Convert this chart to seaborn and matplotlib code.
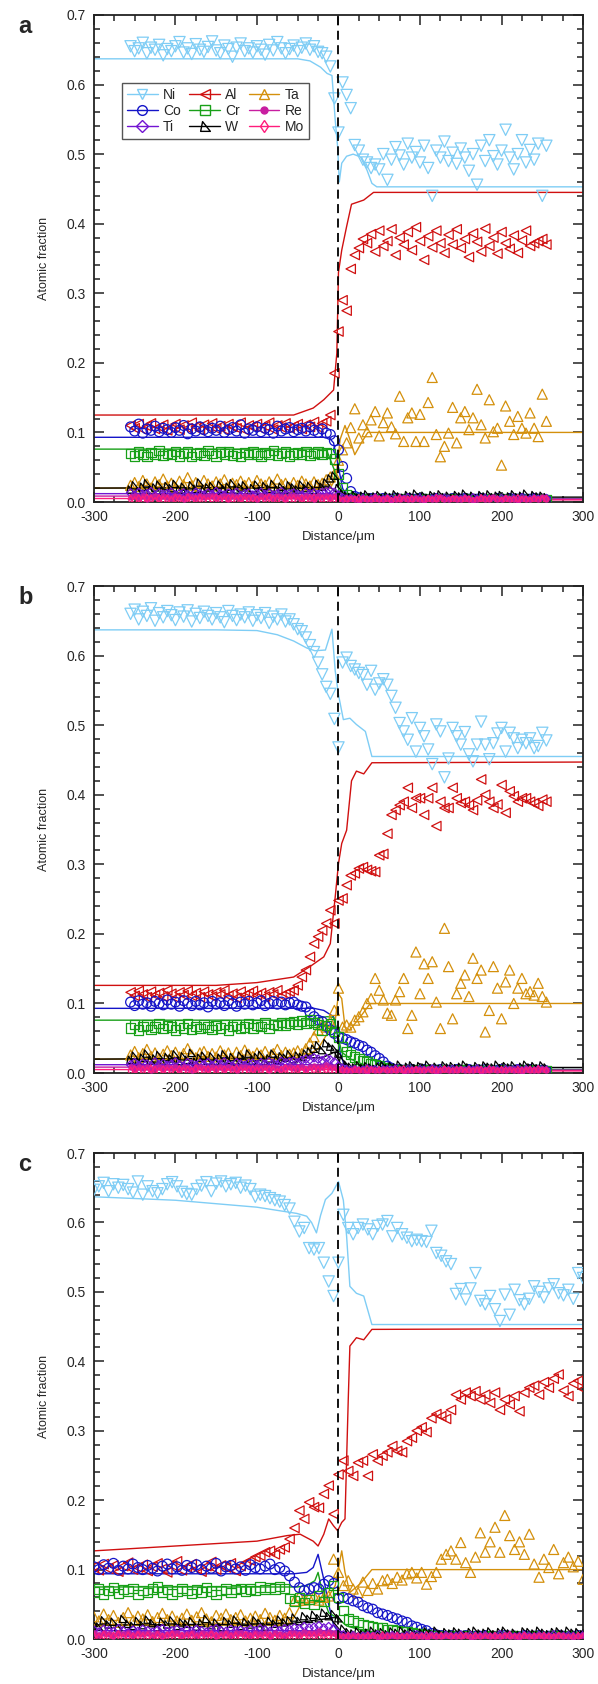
import numpy as np
import matplotlib
matplotlib.use("Agg")
import matplotlib.pyplot as plt
from matplotlib.lines import Line2D
from matplotlib.path import Path
from matplotlib.ticker import MultipleLocator, FormatStrFormatter
import seaborn as sns

# measured profiles, atomic fraction x1000
# panels a and b sampled every 5 um from -255 to 255, panel c every 6 um from -300 to 300
DIST_AB = np.arange(-255, 256, 5)
DIST_C = np.arange(-300, 301, 6)

ELEMENTS = ["Ni", "Co", "Ti", "Al", "Cr", "W", "Ta", "Re", "Mo"]
DRAW_ORDER = ["Ni", "Al", "Ta", "Co", "Cr", "W", "Ti", "Re", "Mo"]

# ---------------- panel a ----------------
NI_A = [655, 648, 652, 660, 645, 653, 650, 657, 642, 651,
        648, 655, 661, 646, 652, 644, 658, 650, 647, 654,
        662, 649, 645, 656, 651, 640, 653, 659, 648, 652,
        646, 655, 650, 643, 657, 649, 661, 652, 645, 651,
        656, 648, 653, 659, 650, 655, 647, 645, 640, 626,
        580,
        531, 603, 585, 566, 513, 505, 492, 488, 480, 485,
        478, 500, 463, 492, 510, 498, 485, 515, 495, 503,
        488, 512, 480, 440, 505, 495, 518, 490, 502, 486,
        508, 495, 476, 500, 456, 512, 490, 520, 497, 485,
        505, 535, 495, 478, 500, 520, 488, 506, 492, 515,
        440, 512]
AL_A = [110, 106, 112, 104, 109, 113, 105, 108, 111, 103,
        107, 112, 104, 110, 106, 114, 108, 103, 111, 107,
        113, 105, 109, 104, 112, 108, 106, 114, 103, 110,
        108, 112, 105, 109, 114, 104, 110, 107, 113, 106,
        109, 112, 105, 111, 108, 115, 107, 113, 116, 125,
        185,
        245, 290, 275, 335, 355, 365, 378, 372, 385, 360,
        390, 368, 375, 392, 355, 380, 370, 388, 362, 395,
        375, 348, 382, 366, 390, 372, 358, 384, 370, 392,
        365, 378, 352, 386, 374, 360, 393, 368, 380, 357,
        388, 372, 364, 383, 358, 376, 390, 368, 372, 375,
        378, 370]
TA_A = [24, 28, 22, 31, 26, 20, 29, 25, 33, 23,
        27, 21, 30, 25, 35, 24, 28, 22, 31, 26,
        23, 29, 26, 32, 21, 27, 25, 30, 24, 28,
        22, 31, 26, 24, 29, 23, 33, 25, 27, 21,
        28, 24, 30, 26, 23, 29, 25, 27, 32, 36,
        40,
        60, 75, 85, 107, 134, 92, 111, 101, 118, 130,
        95, 114, 128, 108, 98, 152, 87, 121, 128, 87,
        126, 87, 143, 179, 97, 65, 80, 99, 136, 85,
        121, 130, 104, 121, 162, 111, 92, 147, 101, 106,
        53, 138, 116, 97, 123, 106, 99, 128, 106, 94,
        155, 116]
CO_A = [108, 102, 112, 99, 105, 103, 109, 101, 106, 104,
        100, 107, 103, 110, 98, 105, 102, 108, 104, 101,
        106, 103, 109, 100, 104, 107, 102, 111, 99, 105,
        103, 108, 101, 106, 104, 99, 109, 102, 105, 107,
        101, 104, 106, 102, 108, 103, 100, 105, 99, 97,
        88,
        75, 51, 34, 15, 8, 6, 5, 4, 5, 4,
        4, 5, 3, 4, 5, 4, 3, 5, 4, 4,
        5, 4, 3, 4, 5, 4, 4, 3, 5, 4,
        4, 5, 4, 3, 4, 5, 4, 4, 3, 5,
        4, 3, 5, 4, 4, 5, 3, 4, 5, 4,
        4, 3]
CR_A = [70, 66, 72, 68, 65, 71, 69, 74, 67, 70,
        68, 73, 66, 70, 72, 65, 69, 71, 67, 74,
        70, 66, 72, 69, 73, 67, 70, 65, 71, 68,
        72, 69, 66, 71, 68, 74, 67, 70, 72, 66,
        69, 71, 68, 73, 67, 70, 72, 68, 71, 70,
        62,
        40, 20, 10, 6, 5, 4, 5, 4, 4, 5,
        4, 4, 5, 3, 4, 4, 5, 4, 3, 4,
        4, 5, 4, 4, 3, 5, 4, 4, 5, 4,
        3, 4, 5, 4, 4, 3, 4, 5, 4, 4,
        5, 4, 3, 4, 5, 4, 4, 3, 4, 5,
        4, 4]
W_A = [18, 24, 15, 22, 27, 17, 21, 25, 16, 23,
       20, 26, 18, 22, 15, 24, 19, 28, 17, 21,
       23, 16, 25, 19, 22, 27, 18, 21, 24, 17,
       20, 25, 16, 23, 19, 26, 18, 22, 17, 24,
       21, 18, 25, 20, 23, 17, 26, 22, 28, 34,
       38,
       20, 12, 9, 7, 10, 6, 9, 11, 7, 8,
       10, 6, 9, 7, 11, 8, 6, 10, 8, 12,
       7, 9, 6, 10, 8, 11, 7, 9, 6, 10,
       8, 12, 7, 9, 6, 10, 8, 11, 7, 9,
       10, 6, 8, 11, 7, 9, 12, 6, 10, 8,
       9, 7]
TI_A = [13, 10, 14, 11, 12, 15, 9, 13, 11, 12,
        14, 10, 12, 13, 11, 9, 14, 12, 10, 13,
        11, 15, 12, 10, 13, 11, 14, 9, 12, 13,
        10, 12, 14, 11, 13, 10, 12, 15, 11, 12,
        13, 11, 10, 14, 12, 13, 11, 14, 15, 16,
        14,
        10, 6, 4, 5, 3, 4, 5, 3, 4, 6,
        3, 4, 5, 4, 3, 5, 4, 6, 3, 4,
        5, 3, 4, 4, 6, 3, 5, 4, 3, 4,
        4, 5, 3, 6, 4, 3, 5, 4, 4, 3,
        5, 4, 3, 5, 4, 6, 3, 4, 5, 4,
        3, 5]
RE_A = [7, 9, 6, 8, 5, 7, 9, 6, 8, 7,
        6, 8, 7, 5, 9, 7, 6, 8, 7, 9,
        8, 6, 7, 9, 5, 8, 7, 6, 9, 7,
        7, 5, 8, 7, 9, 6, 8, 7, 5, 8,
        9, 7, 6, 8, 7, 5, 9, 7, 8, 6,
        8,
        6, 5, 4, 6, 5, 3, 6, 4, 5, 7,
        4, 5, 6, 3, 5, 4, 6, 5, 4, 6,
        5, 3, 6, 5, 4, 7, 5, 4, 6, 5,
        4, 6, 5, 3, 5, 6, 4, 5, 7, 4,
        5, 6, 4, 5, 3, 6, 5, 4, 6, 5,
        7, 5]
MO_A = [4, 2, 5, 3, 6, 4, 1, 5, 3, 4,
        2, 5, 4, 3, 6, 2, 4, 5, 3, 1,
        4, 6, 3, 2, 5, 4, 3, 5, 2, 4,
        5, 3, 1, 4, 6, 3, 4, 2, 5, 3,
        4, 2, 5, 3, 4, 6, 2, 4, 3, 5,
        4,
        3, 1, 4, 2, 3, 5, 2, 3, 1, 4,
        3, 2, 4, 1, 3, 5, 2, 3, 4, 2,
        1, 3, 4, 2, 5, 3, 2, 1, 4, 3,
        2, 4, 3, 1, 2, 5, 3, 4, 2, 3,
        1, 4, 2, 3, 5, 2, 3, 1, 4, 2,
        3, 4]

# ---------------- panel b ----------------
NI_B = [660, 666, 652, 663, 657, 668, 650, 661, 655, 664,
        658, 651, 662, 656, 665, 649, 660, 654, 663, 657,
        652, 661, 655, 648, 664, 657, 651, 659, 655, 662,
        650, 658, 654, 661, 647, 656, 652, 659, 649, 652,
        645, 638, 635, 626, 615, 605, 590, 573, 555, 545,
        509,
        468, 590, 597, 585, 580, 575, 572, 558, 578, 551,
        560, 566, 558, 542, 525, 503, 491, 479, 510, 462,
        496, 484, 465, 444, 501, 491, 425, 452, 496, 484,
        472, 490, 458, 448, 472, 505, 472, 451, 474, 488,
        496, 462, 489, 481, 467, 479, 474, 481, 467, 470,
        489, 478]
AL_B = [116, 111, 118, 113, 109, 117, 112, 115, 110, 119,
        114, 108, 116, 112, 118, 111, 115, 109, 117, 113,
        110, 116, 113, 119, 111, 114, 108, 117, 112, 115,
        118, 112, 115, 110, 116, 113, 119, 111, 114, 117,
        119, 126, 138, 148, 167, 186, 196, 205, 215, 234,
        215,
        248, 251, 270, 284, 287, 294, 296, 292, 290, 289,
        313, 315, 344, 371, 378, 385, 390, 410, 381, 395,
        395, 371, 395, 410, 355, 390, 381, 381, 410, 395,
        388, 390, 385, 378, 392, 422, 400, 390, 381, 386,
        414, 374, 405, 398, 390, 395, 395, 390, 388, 384,
        393, 390]
TA_B = [26, 31, 22, 28, 34, 24, 29, 21, 27, 32,
        25, 30, 23, 28, 35, 26, 22, 29, 31, 24,
        28, 23, 32, 26, 29, 21, 30, 25, 33, 27,
        24, 29, 26, 31, 23, 28, 34, 25, 30, 27,
        29, 32, 28, 35, 43, 52, 62, 69, 66, 74,
        90,
        122, 66, 69, 66, 76, 81, 88, 100, 107, 136,
        119, 105, 86, 83, 105, 117, 136, 64, 83, 174,
        114, 157, 136, 160, 102, 64, 208, 153, 78, 114,
        129, 141, 110, 165, 136, 148, 59, 90, 153, 122,
        78, 131, 148, 100, 122, 136, 114, 117, 112, 129,
        110, 102]
CO_B = [102, 97, 104, 99, 101, 96, 103, 100, 98, 105,
        99, 102, 96, 104, 100, 97, 103, 98, 101, 95,
        103, 99, 101, 97, 104, 100, 96, 102, 99, 103,
        98, 101, 104, 97, 100, 103, 99, 102, 98, 101,
        102, 98, 96, 95, 88, 81, 76, 74, 67, 62,
        57,
        52, 50, 48, 45, 43, 40, 38, 33, 30, 25,
        21, 16, 10, 7, 5, 5, 4, 4, 5, 3,
        4, 5, 4, 3, 4, 5, 4, 4, 3, 5,
        4, 4, 5, 3, 4, 4, 5, 4, 3, 4,
        5, 4, 4, 3, 5, 4, 4, 5, 3, 4,
        4, 3]
CR_B = [65, 70, 62, 67, 69, 63, 66, 71, 64, 68,
        66, 62, 69, 65, 71, 63, 67, 64, 70, 66,
        63, 68, 65, 70, 62, 67, 69, 64, 66, 71,
        65, 69, 67, 72, 64, 70, 68, 73, 69, 72,
        74, 70, 75, 72, 76, 73, 70, 62, 68, 71,
        60,
        52, 38, 31, 27, 23, 20, 18, 16, 14, 12,
        10, 8, 6, 5, 5, 4, 5, 4, 4, 5,
        4, 4, 5, 3, 4, 5, 4, 4, 3, 4,
        5, 4, 4, 3, 5, 4, 4, 5, 4, 3,
        4, 5, 4, 4, 3, 5, 4, 4, 5, 4,
        3, 4]
W_B = [19, 25, 16, 22, 28, 18, 21, 26, 15, 23,
       21, 27, 17, 24, 19, 29, 16, 22, 25, 18,
       24, 17, 22, 27, 19, 23, 16, 25, 20, 28,
       18, 23, 26, 17, 21, 28, 19, 24, 22, 27,
       20, 25, 23, 28, 31, 35, 40, 33, 43, 38,
       35,
       28, 18, 12, 9, 8, 11, 7, 10, 8, 6,
       9, 11, 7, 10, 8, 12, 6, 9, 11, 7,
       10, 8, 12, 7, 9, 6, 11, 8, 10, 7,
       9, 12, 8, 6, 10, 7, 11, 9, 8, 12,
       7, 10, 8, 11, 6, 9, 12, 8, 10, 7,
       11, 8]
TI_B = [12, 15, 11, 14, 13, 10, 16, 12, 14, 11,
        13, 16, 12, 10, 15, 13, 11, 14, 12, 15,
        11, 14, 13, 16, 12, 10, 15, 13, 11, 14,
        14, 12, 15, 13, 16, 14, 12, 17, 15, 16,
        17, 15, 18, 20, 19, 22, 20, 18, 21, 19,
        16,
        10, 7, 5, 4, 5, 3, 4, 6, 4, 5,
        3, 4, 5, 4, 6, 3, 4, 5, 4, 3,
        5, 4, 3, 6, 4, 5, 3, 4, 5, 4,
        4, 3, 5, 4, 6, 4, 3, 5, 4, 4,
        3, 5, 4, 4, 6, 3, 5, 4, 3, 5,
        4, 4]
RE_B = [8, 6, 9, 7, 8, 5, 7, 9, 6, 8,
        7, 9, 6, 8, 7, 5, 8, 9, 7, 6,
        8, 7, 9, 6, 8, 7, 5, 9, 8, 7,
        6, 8, 7, 9, 5, 8, 7, 6, 9, 8,
        7, 9, 8, 6, 9, 10, 8, 9, 11, 9,
        8,
        6, 5, 4, 5, 6, 4, 5, 3, 6, 5,
        4, 6, 5, 4, 5, 6, 3, 5, 4, 6,
        5, 4, 6, 5, 3, 5, 6, 4, 5, 4,
        6, 5, 4, 5, 6, 3, 5, 4, 6, 5,
        4, 5, 6, 4, 5, 3, 6, 5, 4, 5,
        6, 4]
MO_B = [3, 5, 2, 4, 3, 6, 4, 2, 5, 3,
        4, 1, 5, 3, 4, 2, 6, 3, 4, 5,
        2, 4, 3, 5, 1, 4, 6, 3, 2, 4,
        5, 3, 4, 2, 5, 3, 1, 4, 6, 3,
        4, 5, 2, 4, 3, 5, 4, 3, 5, 4,
        3,
        2, 4, 3, 1, 4, 3, 2, 5, 3, 2,
        4, 1, 3, 2, 4, 3, 5, 2, 3, 4,
        2, 3, 1, 4, 3, 2, 5, 3, 2, 4,
        3, 1, 4, 2, 3, 4, 2, 5, 3, 2,
        4, 3, 2, 1, 4, 3, 2, 4, 3, 5,
        2, 3]

# ---------------- panel c ----------------
NI_C = [647, 652, 657, 645, 655, 650, 654, 648, 643, 659,
        640, 652, 645, 642, 648, 655, 658, 652, 644, 641,
        640, 648, 653, 658, 645, 656, 659, 652, 655, 657,
        650, 653, 648, 637, 640, 638, 635, 632, 630, 625,
        620, 601, 587, 592, 563, 561, 563, 542, 515, 494,
        542, 611, 592, 583, 592, 597, 590, 583, 595, 597,
        602, 580, 592, 583, 578, 573, 575, 573, 572, 588,
        556, 552, 544, 540, 497, 504, 489, 505, 527, 487,
        482, 494, 475, 458, 496, 467, 503, 488, 482, 490,
        508, 500, 492, 505, 511, 498, 495, 503, 490, 527,
        520]
AL_C = [104, 99, 108, 101, 106, 97, 105, 110, 100, 103,
        107, 98, 104, 109, 101, 96, 106, 112, 99, 104,
        108, 101, 97, 105, 111, 100, 106, 103, 109, 98,
        105, 110, 113, 118, 120, 125, 127, 122, 129, 132,
        144, 160, 185, 173, 197, 190, 189, 209, 221, 180,
        237, 257, 242, 235, 254, 257, 235, 266, 257, 264,
        269, 278, 271, 269, 285, 290, 300, 305, 298, 318,
        324, 321, 317, 330, 352, 345, 355, 350, 357, 345,
        352, 340, 355, 330, 345, 338, 350, 328, 355, 362,
        365, 352, 370, 362, 375, 381, 358, 350, 368, 372,
        360]
TA_C = [32, 26, 36, 28, 34, 24, 31, 38, 27, 33,
        29, 35, 25, 31, 37, 28, 33, 26, 30, 36,
        27, 32, 38, 29, 25, 34, 30, 36, 28, 31,
        35, 26, 30, 33, 28, 37, 31, 27, 34, 30,
        38, 55, 62, 58, 60, 62, 56, 60, 62, 115,
        96, 77, 84, 72, 67, 82, 70, 80, 72, 84,
        86, 80, 89, 85, 94, 96, 88, 96, 79, 90,
        96, 115, 122, 127, 115, 139, 110, 96, 118, 153,
        125, 140, 161, 125, 178, 149, 129, 140, 122, 151,
        108, 89, 115, 103, 129, 94, 110, 118, 104, 112,
        86]
CO_C = [104, 100, 107, 102, 109, 99, 105, 101, 108, 103,
        100, 106, 102, 98, 105, 108, 101, 104, 99, 106,
        103, 107, 100, 105, 102, 109, 98, 104, 106, 101,
        104, 99, 107, 103, 101, 105, 108, 100, 103, 98,
        91, 82, 74, 70, 72, 74, 72, 79, 84, 80,
        58, 60, 58, 55, 53, 48, 45, 43, 38, 36,
        34, 31, 29, 26, 24, 19, 17, 14, 12, 8,
        6, 5, 4, 5, 4, 4, 5, 3, 4, 4,
        5, 4, 3, 4, 5, 4, 4, 3, 5, 4,
        4, 5, 3, 4, 4, 5, 4, 3, 4, 5,
        4]
CR_C = [68, 72, 65, 70, 74, 66, 71, 69, 73, 64,
        70, 67, 72, 75, 68, 71, 65, 69, 73, 70,
        66, 71, 68, 74, 69, 64, 70, 72, 67, 71,
        73, 69, 72, 70, 75, 71, 74, 72, 76, 73,
        58, 55, 60, 52, 57, 50, 62, 54, 67, 77,
        60, 41, 29, 26, 24, 21, 19, 18, 17, 16,
        14, 13, 12, 11, 10, 9, 8, 7, 6, 5,
        5, 4, 4, 5, 3, 4, 5, 4, 4, 3,
        4, 5, 4, 3, 4, 4, 5, 4, 3, 4,
        5, 4, 4, 3, 5, 4, 4, 5, 3, 4,
        4]
W_C = [23, 18, 27, 21, 25, 17, 29, 22, 19, 26,
       20, 28, 23, 17, 25, 21, 27, 19, 24, 22,
       26, 18, 23, 29, 20, 24, 17, 26, 22, 28,
       19, 25, 21, 27, 23, 18, 26, 22, 28, 24,
       27, 31, 26, 33, 29, 35, 30, 38, 33, 36,
       30, 15, 10, 8, 11, 7, 9, 12, 8, 10,
       7, 11, 9, 12, 8, 10, 6, 9, 11, 8,
       12, 7, 10, 8, 11, 9, 6, 10, 12, 8,
       9, 11, 7, 10, 12, 8, 9, 6, 11, 10,
       8, 12, 9, 7, 10, 11, 8, 12, 9, 10,
       7]
TI_C = [13, 10, 14, 12, 11, 15, 12, 9, 13, 11,
        14, 12, 10, 13, 15, 11, 12, 14, 10, 13,
        11, 14, 12, 10, 13, 15, 12, 11, 14, 12,
        13, 11, 14, 12, 15, 13, 11, 14, 12, 15,
        14, 16, 15, 18, 16, 17, 19, 16, 18, 15,
        8, 6, 4, 5, 3, 4, 5, 4, 6, 3,
        4, 5, 4, 3, 5, 4, 6, 4, 3, 5,
        4, 3, 5, 4, 4, 6, 3, 5, 4, 4,
        5, 3, 4, 6, 4, 5, 3, 4, 5, 4,
        3, 5, 4, 4, 6, 3, 4, 5, 4, 3,
        5]
RE_C = [8, 6, 9, 7, 5, 8, 7, 9, 6, 8,
        7, 9, 6, 8, 5, 7, 9, 8, 6, 7,
        8, 6, 9, 7, 8, 5, 7, 9, 6, 8,
        9, 7, 6, 8, 7, 9, 5, 8, 7, 6,
        8, 9, 7, 10, 8, 9, 11, 8, 10, 9,
        6, 5, 4, 6, 5, 4, 5, 6, 3, 5,
        4, 6, 5, 4, 5, 6, 4, 5, 3, 6,
        5, 4, 6, 5, 4, 5, 6, 3, 5, 4,
        6, 5, 4, 5, 6, 4, 5, 3, 6, 5,
        4, 6, 5, 4, 5, 6, 4, 5, 3, 5,
        6]
MO_C = [4, 2, 5, 3, 4, 6, 2, 4, 3, 5,
        3, 4, 1, 5, 3, 4, 6, 2, 4, 3,
        5, 2, 4, 3, 6, 4, 2, 5, 3, 4,
        2, 5, 3, 4, 1, 4, 5, 3, 4, 2,
        5, 3, 4, 2, 5, 4, 3, 5, 4, 3,
        3, 2, 4, 1, 3, 2, 4, 3, 2, 5,
        3, 1, 4, 2, 3, 4, 2, 3, 5, 2,
        3, 4, 1, 3, 2, 4, 3, 2, 4, 3,
        1, 3, 4, 2, 3, 5, 2, 3, 4, 1,
        3, 2, 4, 3, 2, 4, 3, 1, 3, 4,
        2]

# simulated profiles (distance um, atomic fraction)
SIM_A_NI = ([-300, -50, -35, -22, -14, -8, -6, -4, -1, 1, 4, 10, 18, 27, 35, 41, 47, 300],
            [0.637, 0.637, 0.634, 0.625, 0.616, 0.613, 0.582, 0.549, 0.510, 0.460, 0.487,
             0.497, 0.500, 0.496, 0.477, 0.458, 0.453, 0.453])
SIM_A_AL = ([-300, -55, -31, -18, -6, -2, 0, 4, 10, 16, 31, 43, 300],
            [0.125, 0.125, 0.135, 0.147, 0.161, 0.214, 0.33, 0.362, 0.396, 0.428, 0.434, 0.445, 0.445])
SIM_A_TA = ([-300, -10, -3, 2, 8, 14, 20, 28, 36, 300],
            [0.02, 0.02, 0.035, 0.09, 0.11, 0.09, 0.068, 0.085, 0.1, 0.1])
SIM_A_CO = ([-300, -12, -6, 0, 5, 10, 20, 300],
            [0.093, 0.093, 0.085, 0.05, 0.02, 0.008, 0.004, 0.004])
SIM_A_CR = ([-300, -15, -8, 0, 8, 20, 300],
            [0.076, 0.076, 0.055, 0.03, 0.005, 0.004, 0.004])
SIM_A_W = ([-300, -10, 5, 300], [0.02, 0.021, 0.007, 0.007])

SIM_B_NI = ([-300, -150, -100, -75, -55, -39, -29, -16, -8, -4, 0, 6, 14, 22, 33, 41, 300],
            [0.637, 0.637, 0.636, 0.630, 0.621, 0.611, 0.607, 0.608, 0.638, 0.578, 0.544,
             0.508, 0.510, 0.501, 0.491, 0.455, 0.455])
SIM_B_AL = ([-300, -150, -100, -55, -35, -18, -10, -7, -4, 0, 4, 10, 16, 22, 31, 41, 300],
            [0.126, 0.126, 0.130, 0.138, 0.153, 0.167, 0.186, 0.22, 0.253, 0.301, 0.33, 0.349,
             0.42, 0.434, 0.43, 0.446, 0.447])
SIM_B_TA = ([-300, -45, -25, -12, -4, 0, 4, 8, 14, 27, 39, 300],
            [0.02, 0.02, 0.035, 0.06, 0.075, 0.114, 0.107, 0.066, 0.062, 0.081, 0.1, 0.1])
SIM_B_CO = ([-300, -30, -18, -6, -2, 2, 6, 12, 25, 300],
            [0.093, 0.093, 0.09, 0.081, 0.06, 0.03, 0.015, 0.008, 0.005, 0.005])
SIM_B_CR = ([-300, -40, -14, -6, -2, 4, 15, 35, 60, 300],
            [0.076, 0.076, 0.081, 0.08, 0.06, 0.03, 0.02, 0.01, 0.005, 0.005])
SIM_B_W = ([-300, -20, -5, 5, 300], [0.02, 0.022, 0.03, 0.008, 0.008])

SIM_C_NI = ([-300, -200, -100, -51, -39, -33, -27, -22, -16, -8, 0, 6, 10, 14, 22, 31, 41, 300],
            [0.637, 0.632, 0.622, 0.613, 0.609, 0.6, 0.585, 0.61, 0.633, 0.642, 0.659, 0.632,
             0.58, 0.508, 0.498, 0.494, 0.453, 0.453])
SIM_C_AL = ([-300, -200, -100, -63, -47, -39, -31, -25, -18, -12, -6, -1, 4, 8, 12, 14, 22, 31, 41, 300],
            [0.127, 0.134, 0.141, 0.149, 0.151, 0.146, 0.141, 0.134, 0.151, 0.173, 0.163, 0.156,
             0.168, 0.173, 0.345, 0.422, 0.434, 0.431, 0.446, 0.447])
SIM_C_TA = ([-300, -60, -47, -31, -14, -4, 4, 8, 14, 27, 41, 300],
            [0.02, 0.02, 0.048, 0.05, 0.058, 0.077, 0.127, 0.096, 0.067, 0.08, 0.1, 0.1])
SIM_C_CO = ([-300, -55, -39, -31, -25, -18, -12, -6, 0, 20, 300],
            [0.094, 0.094, 0.096, 0.103, 0.122, 0.086, 0.05, 0.02, 0.01, 0.005, 0.005])
SIM_C_CR = ([-300, -50, -39, -29, -25, -18, -12, 0, 10, 30, 50, 300],
            [0.075, 0.075, 0.077, 0.084, 0.096, 0.058, 0.038, 0.029, 0.019, 0.012, 0.007, 0.005])
SIM_C_W = ([-300, -60, -10, 5, 300], [0.02, 0.022, 0.03, 0.008, 0.008])

# minor elements look the same in all three panels
SIM_TI = ([-300, -8, 5, 300], [0.012, 0.012, 0.004, 0.004])
SIM_RE = ([-300, -8, 5, 300], [0.0085, 0.0085, 0.004, 0.004])
SIM_MO = ([-300, -8, 5, 300], [0.005, 0.005, 0.003, 0.003])

COLORS = {"Ni": "#7fcdf5", "Al": "#d01010", "Ta": "#d4900c", "Co": "#1414c8",
          "Cr": "#18a018", "Re": "#c81ea0", "Ti": "#7214d2", "W": "#000000",
          "Mo": "#ff1c7c"}
W_MARK = Path([(-0.6, 1.0), (1.0, -1.0), (-1.0, -1.0), (-0.6, 1.0)],
              [Path.MOVETO, Path.LINETO, Path.LINETO, Path.CLOSEPOLY])
MARKERS = {"Ni": "v", "Al": "<", "Ta": "^", "Co": "o", "Cr": "s", "Re": "o",
           "Ti": "D", "W": W_MARK, "Mo": "d"}
SIZES = {"Ni": 66, "Al": 46, "Ta": 52, "Co": 50, "Cr": 46, "Re": 14,
         "Ti": 18, "W": 28, "Mo": 16}

sns.set_style("ticks")
plt.rcParams["font.family"] = ["Liberation Sans", "DejaVu Sans"]
plt.rcParams["axes.unicode_minus"] = False


def to_frac(vals):
    return np.asarray(vals, dtype=float) / 1000.0


def draw_panel(ax, dist, data, sims, letter):
    for el in DRAW_ORDER:
        sx, sy = sims[el]
        sns.lineplot(x=sx, y=sy, ax=ax, color=COLORS[el], lw=1.0,
                     sort=False, estimator=None, zorder=2)
    for el in DRAW_ORDER:
        y = to_frac(data[el])
        n = min(len(y), len(dist))
        face = COLORS[el] if el == "Re" else "none"
        sns.scatterplot(x=dist[:n], y=y[:n], ax=ax, marker=MARKERS[el],
                        s=SIZES[el], facecolor=face, edgecolor=COLORS[el],
                        linewidth=0.9, zorder=3)
    ax.axvline(0, color="black", ls=(0, (5, 3)), lw=1.3, zorder=5)
    ax.set_xlim(-300, 300)
    ax.set_ylim(0, 0.7)
    ax.xaxis.set_major_locator(MultipleLocator(100))
    ax.xaxis.set_minor_locator(MultipleLocator(25))
    ax.yaxis.set_major_locator(MultipleLocator(0.1))
    ax.yaxis.set_minor_locator(MultipleLocator(0.02))
    ax.yaxis.set_major_formatter(FormatStrFormatter("%.1f"))
    ax.tick_params(which="both", direction="in", top=True, right=True,
                   labelsize=10, width=1.1, color="#222222")
    ax.tick_params(which="major", length=7)
    ax.tick_params(which="minor", length=4)
    ax.tick_params(axis="x", which="major", pad=6)
    ax.tick_params(axis="y", which="major", pad=6)
    for sp in ax.spines.values():
        sp.set_linewidth(1.3)
        sp.set_color("#222222")
    ax.set_xlabel("Distance/\u03bcm", fontsize=9.5, labelpad=5)
    ax.set_ylabel("Atomic fraction", fontsize=9, labelpad=12)
    ax.text(-0.155, 1.0, letter, transform=ax.transAxes, fontsize=17,
            fontweight="bold", va="top", ha="left")


fig = plt.figure(figsize=(5.98, 16.84), dpi=100)
ax_a = fig.add_axes([0.157, 0.7019, 0.818, 0.2892])
ax_b = fig.add_axes([0.157, 0.3628, 0.818, 0.2892])
ax_c = fig.add_axes([0.157, 0.0267, 0.818, 0.2886])

data_a = {"Ni": NI_A, "Al": AL_A, "Ta": TA_A, "Co": CO_A, "Cr": CR_A,
          "W": W_A, "Ti": TI_A, "Re": RE_A, "Mo": MO_A}
data_b = {"Ni": NI_B, "Al": AL_B, "Ta": TA_B, "Co": CO_B, "Cr": CR_B,
          "W": W_B, "Ti": TI_B, "Re": RE_B, "Mo": MO_B}
data_c = {"Ni": NI_C, "Al": AL_C, "Ta": TA_C, "Co": CO_C, "Cr": CR_C,
          "W": W_C, "Ti": TI_C, "Re": RE_C, "Mo": MO_C}
sims_a = {"Ni": SIM_A_NI, "Al": SIM_A_AL, "Ta": SIM_A_TA, "Co": SIM_A_CO,
          "Cr": SIM_A_CR, "W": SIM_A_W, "Ti": SIM_TI, "Re": SIM_RE, "Mo": SIM_MO}
sims_b = {"Ni": SIM_B_NI, "Al": SIM_B_AL, "Ta": SIM_B_TA, "Co": SIM_B_CO,
          "Cr": SIM_B_CR, "W": SIM_B_W, "Ti": SIM_TI, "Re": SIM_RE, "Mo": SIM_MO}
sims_c = {"Ni": SIM_C_NI, "Al": SIM_C_AL, "Ta": SIM_C_TA, "Co": SIM_C_CO,
          "Cr": SIM_C_CR, "W": SIM_C_W, "Ti": SIM_TI, "Re": SIM_RE, "Mo": SIM_MO}

draw_panel(ax_a, DIST_AB, data_a, sims_a, "a")
draw_panel(ax_b, DIST_AB, data_b, sims_b, "b")
draw_panel(ax_c, DIST_C, data_c, sims_c, "c")

handles = []
for el in ELEMENTS:
    face = COLORS[el] if el == "Re" else "none"
    ms = {"Re": 5, "Ti": 6, "Mo": 6, "W": 7}.get(el, 7)
    handles.append(Line2D([], [], color=COLORS[el], marker=MARKERS[el], markersize=ms,
                          markerfacecolor=face, markeredgecolor=COLORS[el], lw=1.0,
                          label=el))
leg = ax_a.legend(handles=handles, ncol=3, loc="upper left",
                  bbox_to_anchor=(0.058, 0.86), fontsize=10, frameon=True,
                  fancybox=False, edgecolor="#555555", framealpha=1,
                  handlelength=2.2, handletextpad=0.4, columnspacing=0.6,
                  labelspacing=0.15, borderpad=0.35, borderaxespad=0)
leg.get_frame().set_linewidth(1.0)

fig.savefig("out.png", dpi=100)
